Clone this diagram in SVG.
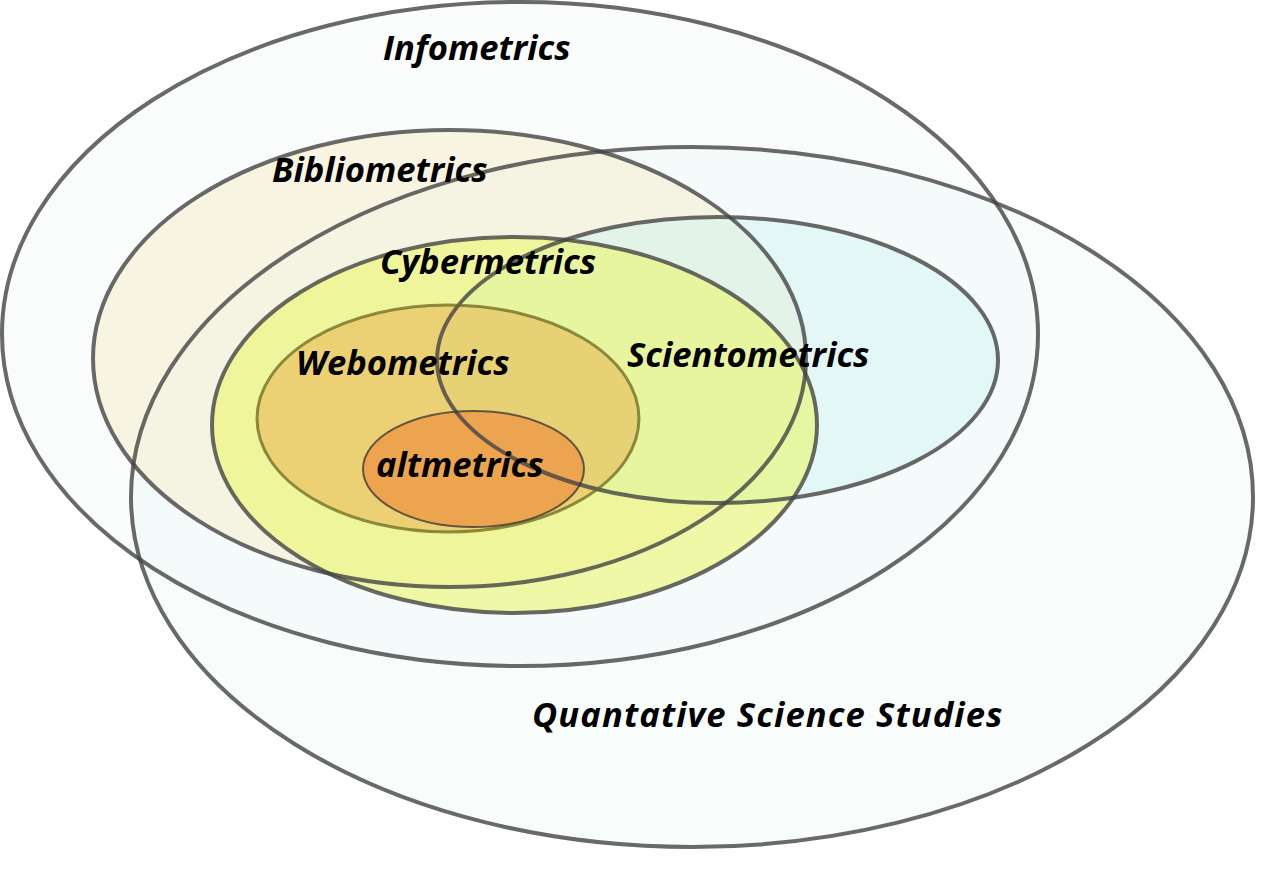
<svg xmlns="http://www.w3.org/2000/svg" width="1280" height="882" viewBox="0 0 1280 882">
<style>
.ol{fill:none;stroke:#444;stroke-opacity:0.8;stroke-width:4}
.lbl{font-family:"Open Sans","Noto Sans","DejaVu Sans",sans-serif;font-weight:bold;font-style:italic;font-size:34.6px;fill:#000}
</style>
<rect width="1280" height="882" fill="#ffffff"/>
<g id="infometrics">
<ellipse cx="520" cy="334" rx="518" ry="332" fill="#f2f8f8" fill-opacity="0.4"/>
</g>
<g id="qss">
<ellipse cx="692" cy="497" rx="561" ry="350" fill="#ebf8f5" fill-opacity="0.35"/>
</g>
<g id="bibliometrics">
<ellipse cx="449.5" cy="358.5" rx="356.5" ry="228.5" fill="#f5ecc8" fill-opacity="0.5"/>
</g>
<g id="scientometrics">
<ellipse cx="717.5" cy="360" rx="280.5" ry="143" fill="#cff3f2" fill-opacity="0.45"/>
</g>
<g id="cybermetrics">
<ellipse cx="514.5" cy="425" rx="302.5" ry="188" fill="#eaf660" fill-opacity="0.55"/>
</g>
<g id="webometrics">
<ellipse cx="448" cy="418.5" rx="191" ry="113.5" fill="#e8b95a" fill-opacity="0.6"/>
</g>
<g id="altmetrics">
<ellipse cx="473.5" cy="469" rx="110.5" ry="58" fill="#ee8c3c" fill-opacity="0.65"/>
</g>
<g id="outlines">
<ellipse class="ol" cx="520" cy="334" rx="518" ry="332"/>
<ellipse class="ol" cx="692" cy="497" rx="561" ry="350"/>
<ellipse class="ol" cx="449.5" cy="358.5" rx="356.5" ry="228.5"/>
<ellipse class="ol" cx="717.5" cy="360" rx="280.5" ry="143"/>
<ellipse class="ol" cx="514.5" cy="425" rx="302.5" ry="188"/>
<ellipse cx="448" cy="418.5" rx="191" ry="113.5" fill="none" stroke="#6a6a20" stroke-opacity="0.75" stroke-width="3"/>
<ellipse cx="473.5" cy="469" rx="110.5" ry="58" fill="none" stroke="#333" stroke-opacity="0.75" stroke-width="2"/>
</g>
<g id="labels">
<text class="lbl" x="383" y="60">Infometrics</text>
<text class="lbl" x="272" y="182">Bibliometrics</text>
<text class="lbl" x="380" y="274">Cybermetrics</text>
<text class="lbl" x="296" y="375">Webometrics</text>
<text class="lbl" x="627" y="367">Scientometrics</text>
<text class="lbl" x="376" y="477">altmetrics</text>
<text class="lbl" x="532" y="727" letter-spacing="1.1">Quantative Science Studies</text>
</g>
<g id="connectors"/>
</svg>
